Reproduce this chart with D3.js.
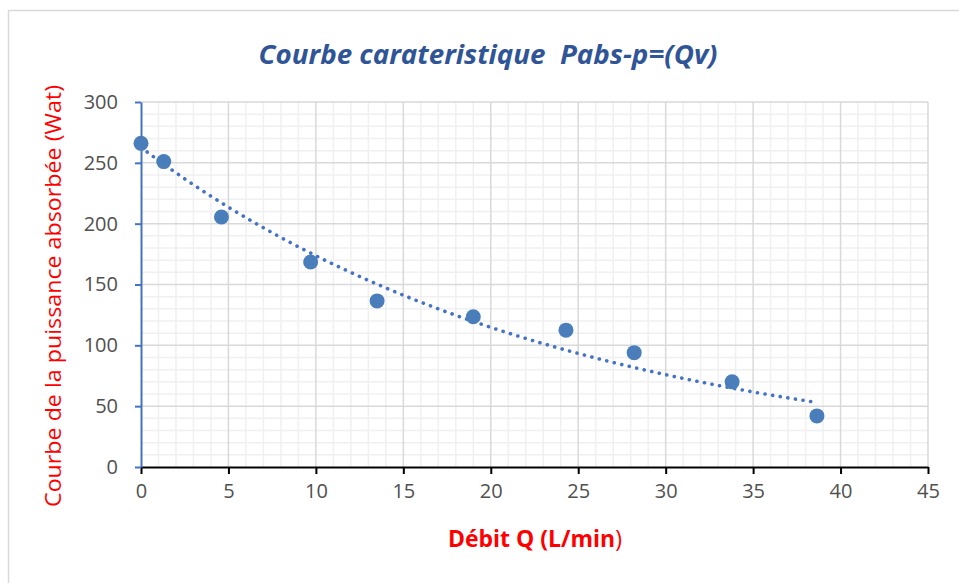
<!DOCTYPE html>
<html>
<head>
<meta charset="utf-8">
<script src="https://cdn.jsdelivr.net/npm/d3@7"></script>
<style>
  html, body { margin: 0; padding: 0; background: #fff; }
  svg { display: block; }
</style>
</head>
<body>
<svg id="chart" width="959" height="583"></svg>
<script>
// ---- Data ----
const debitQ = [0, 1.3, 4.6, 9.7, 13.5, 19.0, 24.3, 28.2, 33.8, 38.65];
const puissance = [266, 251, 205.5, 168.5, 136.5, 123.5, 112.5, 94, 70, 42];
const xTicks = [0, 5, 10, 15, 20, 25, 30, 35, 40, 45];
const yTicks = [0, 50, 100, 150, 200, 250, 300];
const titleText = "Courbe carateristique  Pabs-p=(Qv)";
const xLabelBold = "Débit Q (L/min";
const xLabelTail = ")";
const yLabelText = "Courbe de la puissance absorbée (Wat)";

const svg = d3.select("#chart");

// chart frame
svg.append("rect").attr("x", 8.5).attr("y", 10.5).attr("width", 960).attr("height", 600)
  .attr("fill", "#fff").attr("stroke", "#d9d9d9").attr("stroke-width", 1.5);

const x = d3.scaleLinear().domain([0, 45]).range([141, 928]);
const y = d3.scaleLinear().domain([0, 300]).range([467, 102]);

// minor gridlines
const g = svg.append("g");
const minorX = d3.range(0, 46, 1).filter(v => v % 5 !== 0);
const minorY = d3.range(0, 301, 10).filter(v => v % 50 !== 0);
g.selectAll(".mx").data(minorX).join("line")
  .attr("x1", d => x(d)).attr("x2", d => x(d)).attr("y1", y(0)).attr("y2", y(300))
  .attr("stroke", "#f0f0f0").attr("stroke-width", 1.5);
g.selectAll(".my").data(minorY).join("line")
  .attr("y1", d => y(d)).attr("y2", d => y(d)).attr("x1", x(0)).attr("x2", x(45))
  .attr("stroke", "#f0f0f0").attr("stroke-width", 1.5);
// major gridlines
g.selectAll(".MX").data(xTicks.filter(d => d > 0)).join("line")
  .attr("x1", d => x(d)).attr("x2", d => x(d)).attr("y1", y(0)).attr("y2", y(300))
  .attr("stroke", "#d9d9d9").attr("stroke-width", 1.5);
g.selectAll(".MY").data(yTicks.filter(d => d > 0)).join("line")
  .attr("y1", d => y(d)).attr("y2", d => y(d)).attr("x1", x(0)).attr("x2", x(45))
  .attr("stroke", "#d9d9d9").attr("stroke-width", 1.5);

// axes
const xAxis = svg.append("g").attr("transform", `translate(0,${y(0)})`)
  .call(d3.axisBottom(x).tickValues(xTicks).tickSize(7).tickSizeOuter(0).tickPadding(10));
xAxis.select(".domain").attr("stroke", "#000").attr("stroke-width", 2);
xAxis.selectAll(".tick line").attr("stroke", "#000").attr("stroke-width", 2);
xAxis.selectAll(".tick text").attr("font-family", "'Open Sans', sans-serif").attr("font-size", 20)
  .attr("fill", "#505050");

const yAxis = svg.append("g").attr("transform", `translate(${x(0)},0)`)
  .call(d3.axisLeft(y).tickValues(yTicks).tickSize(6).tickSizeOuter(0).tickPadding(17));
yAxis.select(".domain").attr("stroke", "#4472c4").attr("stroke-width", 2);
yAxis.selectAll(".tick line").attr("stroke", "#4472c4").attr("stroke-width", 2);
yAxis.selectAll(".tick text").attr("font-family", "'Open Sans', sans-serif").attr("font-size", 20)
  .attr("fill", "#505050");

// exponential trendline (least squares on ln y, as spreadsheet tools do)
const n = debitQ.length;
const lx = debitQ, ly = puissance.map(Math.log);
const mx = d3.mean(lx), my = d3.mean(ly);
const b = d3.sum(lx.map((v, i) => (v - mx) * (ly[i] - my))) / d3.sum(lx.map(v => (v - mx) ** 2));
const a = Math.exp(my - b * mx);
const xs = d3.range(0, 201).map(i => debitQ[0] + (debitQ[n - 1] - debitQ[0]) * i / 200);
svg.append("path")
  .attr("d", d3.line().x(d => x(d)).y(d => y(a * Math.exp(b * d)))(xs))
  .attr("fill", "none").attr("stroke", "#4472c4").attr("stroke-width", 3.6)
  .attr("stroke-linecap", "round").attr("stroke-dasharray", "0.1 7.6");

// points
svg.selectAll(".pt").data(debitQ).join("circle")
  .attr("cx", d => x(d)).attr("cy", (d, i) => y(puissance[i])).attr("r", 7.5)
  .attr("fill", "#4a7ebb");

// title
svg.append("text").attr("x", 488).attr("y", 64).attr("text-anchor", "middle")
  .attr("xml:space", "preserve").style("white-space", "pre")
  .attr("font-family", "'Open Sans', sans-serif").attr("font-weight", "bold").attr("font-style", "italic")
  .attr("font-size", 27).attr("fill", "#2f5597")
  .attr("textLength", 459).attr("lengthAdjust", "spacingAndGlyphs")
  .text(titleText);

// x label
const xl = svg.append("text").attr("x", 535).attr("y", 547).attr("text-anchor", "middle")
  .attr("font-family", "'Open Sans', sans-serif")
  .attr("font-size", 23).attr("fill", "#ff0000")
  .attr("textLength", 174).attr("lengthAdjust", "spacingAndGlyphs");
xl.append("tspan").attr("font-weight", "bold").text(xLabelBold);
xl.append("tspan").attr("font-weight", "normal").text(xLabelTail);

// y label
svg.append("text").attr("transform", "translate(61,296) rotate(-90)").attr("text-anchor", "middle")
  .attr("font-family", "'Open Sans', sans-serif")
  .attr("font-size", 21).attr("fill", "#ff0000")
  .attr("textLength", 422).attr("lengthAdjust", "spacingAndGlyphs")
  .text(yLabelText);
</script>
</body>
</html>
